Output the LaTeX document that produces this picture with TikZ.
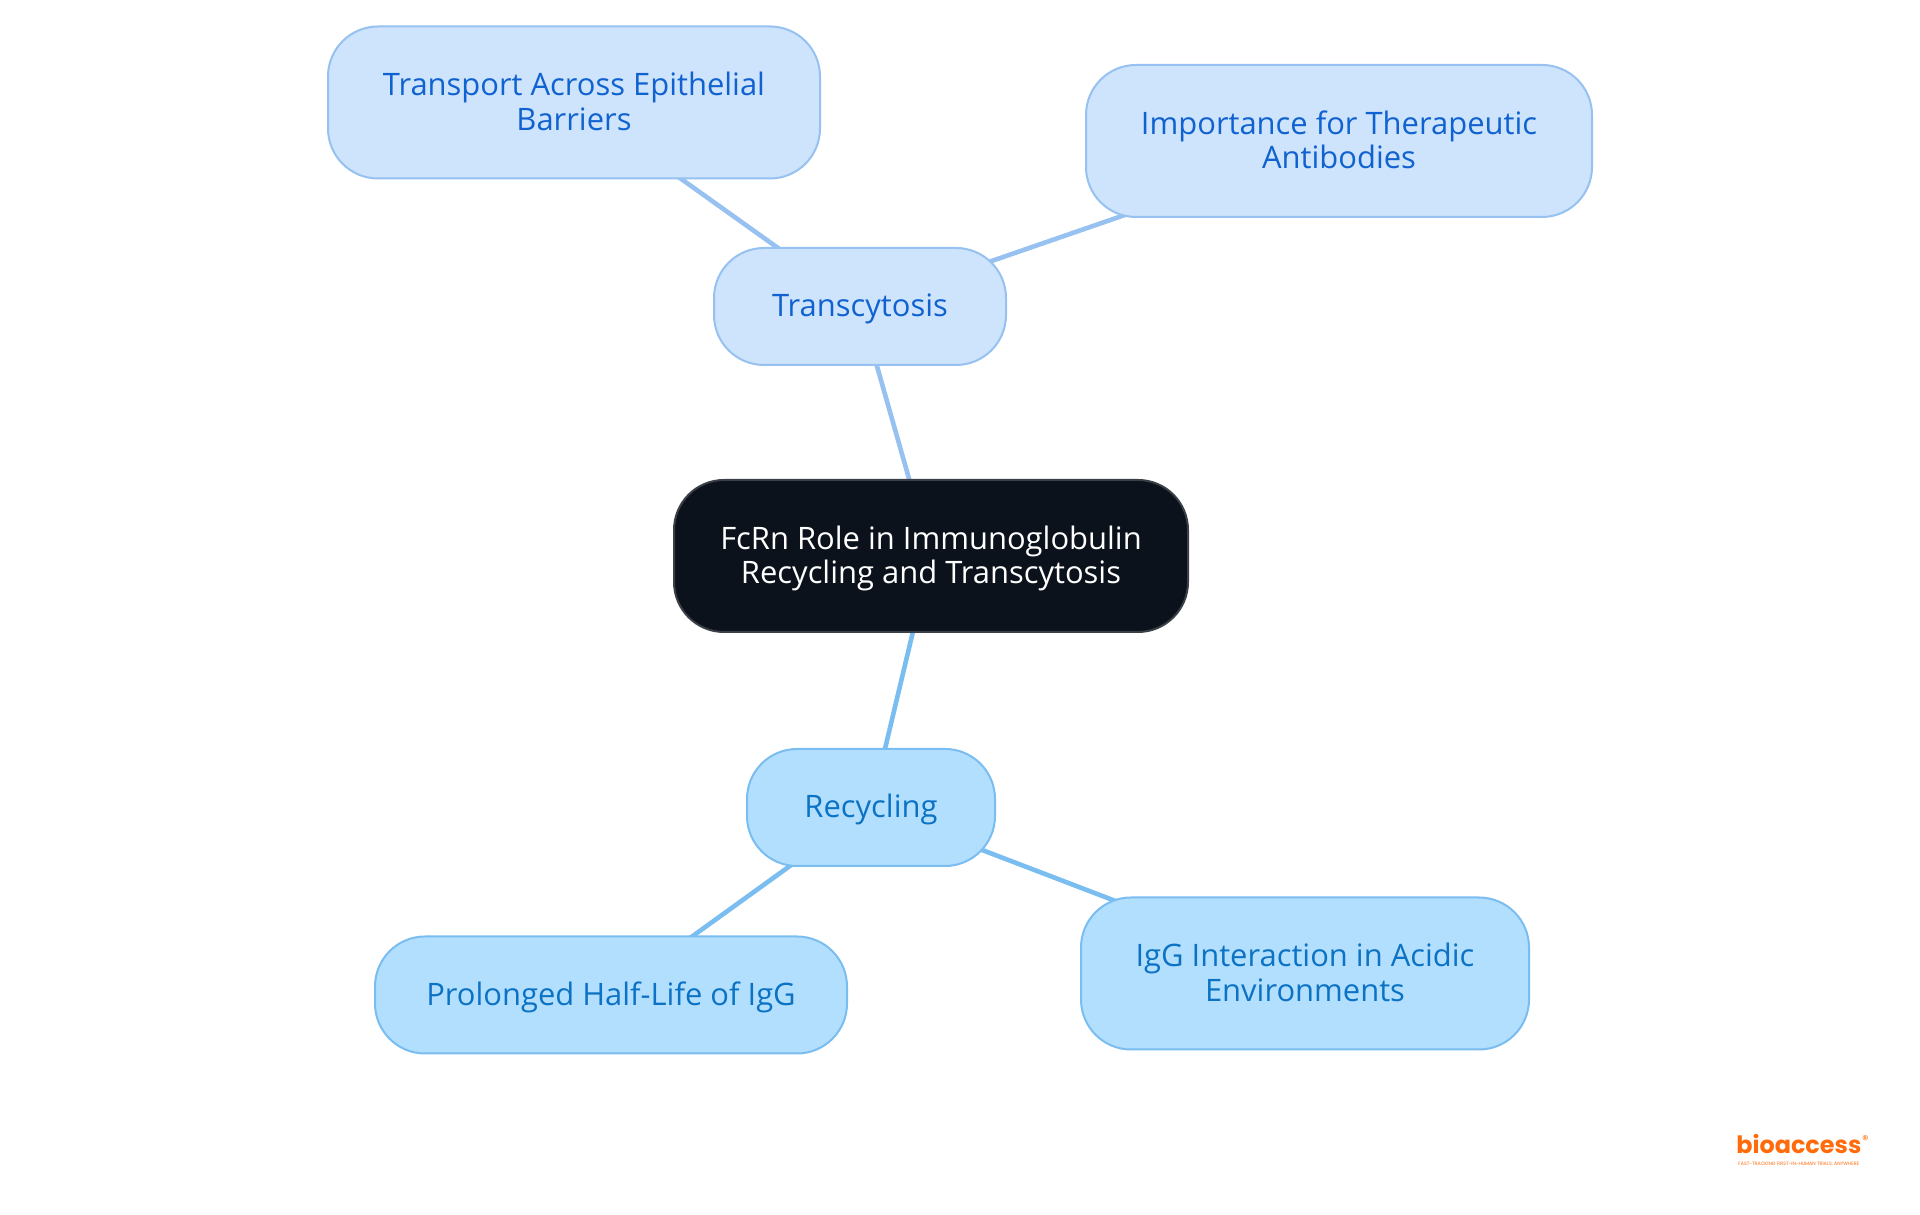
\documentclass[tikz,border=0pt]{standalone}
\usepackage{fontspec}
\setmainfont{Open Sans}
\newfontfamily\logofont{Poppins}
\usetikzlibrary{backgrounds,positioning}
\definecolor{rootfill}{HTML}{0B121B}
\definecolor{rootline}{HTML}{3B4047}
\definecolor{transfill}{HTML}{CEE3FC}
\definecolor{transline}{HTML}{96C1F0}
\definecolor{transtext}{HTML}{0F62CF}
\definecolor{recyfill}{HTML}{B3DFFF}
\definecolor{recyline}{HTML}{7ABDF0}
\definecolor{recytext}{HTML}{0B72C4}
\definecolor{logoorange}{HTML}{FF6B0A}
\newcommand{\liftline}{\rule{0pt}{22.3pt}}
\tikzset{
  mapnode/.style={draw,rectangle,rounded corners=1.25cm,line width=0.05cm,align=center,
    inner sep=0pt,outer sep=0pt,font=\fontsize{22}{24.5}\selectfont},
  rootnode/.style={mapnode,fill=rootfill,draw=rootline,text=white},
  transnode/.style={mapnode,fill=transfill,draw=transline,text=transtext},
  recynode/.style={mapnode,fill=recyfill,draw=recyline,text=recytext},
  transedge/.style={draw=transline,line width=0.115cm},
  recyedge/.style={draw=recyline,line width=0.115cm}
}
\begin{document}
\begin{tikzpicture}
      \useasboundingbox (0,0) rectangle (48,30.375);

      \node[rootnode,minimum width=12.85cm,minimum height=3.8cm]   (root)       at (23.275,16.475)  {\liftline FcRn Role in Immunoglobulin\\Recycling and Transcytosis\strut};
      \node[transnode,minimum width=7.3cm,minimum height=2.925cm]  (transcyt)   at (21.5  ,22.7125) {\liftline Transcytosis\strut};
      \node[transnode,minimum width=12.3cm,minimum height=3.8cm]   (epithelial) at (14.35 ,27.8125) {\liftline Transport Across Epithelial\\Barriers\strut};
      \node[transnode,minimum width=12.65cm,minimum height=3.8cm]  (therapeutic) at (33.475,26.85)  {\liftline Importance for Therapeutic\\Antibodies\strut};
      \node[recynode,minimum width=6.2cm,minimum height=2.925cm]   (recycling)  at (21.775,10.1875) {\liftline Recycling\strut};
      \node[recynode,minimum width=11.8cm,minimum height=2.925cm]  (halflife)   at (15.275,5.5)     {\liftline Prolonged Half-Life of IgG\strut};
      \node[recynode,minimum width=11.2cm,minimum height=3.8cm]    (acidic)     at (32.625,6.0375)  {\liftline IgG Interaction in Acidic\\Environments\strut};

      \begin{scope}[on background layer]
        \draw[transedge] (root.center)     -- (transcyt.center);
        \draw[transedge] (transcyt.center) -- (epithelial.center);
        \draw[transedge] (transcyt.center) -- (therapeutic.center);
        \draw[recyedge]  (root.center)     -- (recycling.center);
        \draw[recyedge]  (recycling.center) -- (halflife.center);
        \draw[recyedge]  (recycling.center) -- (acidic.center);
      \end{scope}

      \node[inner sep=0pt,text=logoorange,font=\logofont\bfseries\fontsize{17}{17}\selectfont] (logo) at (44.97,1.78) {bioaccess};
      \node[inner sep=0pt,text=logoorange,font=\logofont\fontsize{9}{9}\selectfont] (logoreg) at (46.63,1.875) {®};
      \node[inner sep=0pt,text=logoorange,font=\logofont\fontsize{3.4}{4}\selectfont,below=0.2cm of logo] (tagline) {FAST-TRACKING FIRST-IN-HUMAN TRIALS, ANYWHERE};
\end{tikzpicture}
\end{document}
